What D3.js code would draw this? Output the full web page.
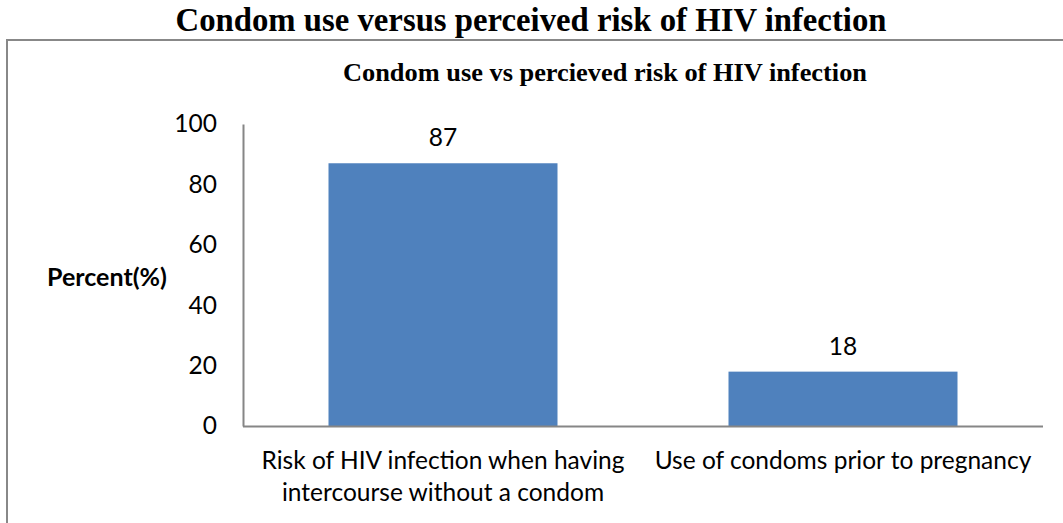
<!DOCTYPE html>
<html><head><meta charset="utf-8">
<script src="https://cdn.jsdelivr.net/npm/d3@7"></script>
<style>
html,body{margin:0;padding:0;background:#fff;}
svg{display:block;}
</style></head>
<body>
<script>
const categories = [
  ["Risk of HIV infection when having", "intercourse without a condom"],
  ["Use of condoms prior to pregnancy"]
];
const values = [87, 18];
const yTicks = [0, 20, 40, 60, 80, 100];
const mainTitle = "Condom use versus perceived risk of HIV infection";
const chartTitle = "Condom use vs percieved risk of HIV infection";
const yLabel = "Percent(%)";

const W = 1063, H = 523;
const svg = d3.select("body").append("svg").attr("width", W).attr("height", H);

// outer frame (top + left visible)
svg.append("path").attr("d", "M7,523 V40 H1063").attr("fill", "none")
  .attr("stroke", "#888").attr("stroke-width", 2);

svg.append("text").attr("x", 531).attr("y", 31).attr("text-anchor", "middle")
  .attr("font-family", "Liberation Serif, Times New Roman, serif").attr("font-weight", "bold")
  .attr("font-size", 33).attr("textLength", 711).attr("lengthAdjust", "spacingAndGlyphs")
  .text(mainTitle);

svg.append("text").attr("x", 605).attr("y", 81).attr("text-anchor", "middle")
  .attr("font-family", "Liberation Serif, Times New Roman, serif").attr("font-weight", "bold")
  .attr("font-size", 26).attr("textLength", 524).attr("lengthAdjust", "spacingAndGlyphs")
  .text(chartTitle);

const x0 = 243, x1 = 1043, yBase = 426, yTop = 124;
const x = d3.scaleBand().domain(d3.range(values.length)).range([x0, x1])
  .paddingInner(0.4275).paddingOuter(0.21375);
const y = d3.scaleLinear().domain([0, 100]).range([yBase, yTop]);

const font = "Lato, Open Sans, sans-serif";
const fs = 24.5;

// bars
svg.selectAll("rect.bar").data(values).enter().append("rect")
  .attr("class", "bar")
  .attr("x", (d, i) => x(i)).attr("width", x.bandwidth())
  .attr("y", d => y(d)).attr("height", d => y(0) - y(d))
  .attr("fill", "#4f81bd");

// y axis
const yAxis = d3.axisLeft(y).tickValues(yTicks).tickSize(0).tickPadding(26);
const gy = svg.append("g").attr("transform", `translate(${x0},0)`).call(yAxis);
gy.select(".domain").attr("stroke", "#868686").attr("stroke-width", 2);
gy.selectAll("text").attr("font-family", font).attr("font-size", fs).attr("fill", "#000");

// x axis
const xAxis = d3.axisBottom(x).tickSize(0).tickFormat("");
const gx = svg.append("g").attr("transform", `translate(0,${yBase})`).call(xAxis);
gx.select(".domain").attr("stroke", "#868686").attr("stroke-width", 2)
  .attr("d", `M${x0},0.5H${x1}`);

// x category labels
categories.forEach((lines, i) => {
  const t = svg.append("text").attr("text-anchor", "middle")
    .attr("font-family", font).attr("font-size", fs).attr("fill", "#000");
  lines.forEach((ln, j) => {
    t.append("tspan").attr("x", x(i) + x.bandwidth() / 2).attr("y", 469 + j * 32).text(ln);
  });
});

// data labels
svg.selectAll("text.dl").data(values).enter().append("text")
  .attr("class", "dl").attr("text-anchor", "middle")
  .attr("x", (d, i) => x(i) + x.bandwidth() / 2)
  .attr("y", d => y(d) - 17)
  .attr("font-family", font).attr("font-size", fs).attr("fill", "#000")
  .text(d => d);

// y label
svg.append("text").attr("x", 107).attr("y", 286).attr("text-anchor", "middle")
  .attr("font-family", font).attr("font-weight", "bold").attr("font-size", 25)
  .text(yLabel);
</script>
</body></html>
